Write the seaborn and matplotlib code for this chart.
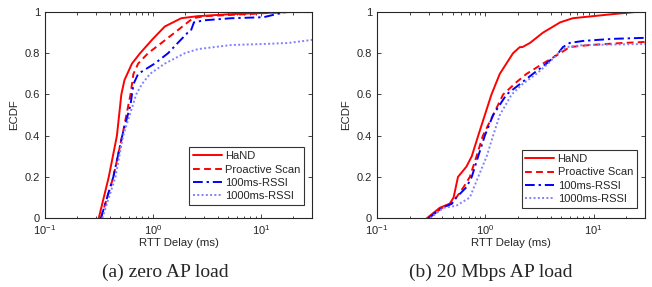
import numpy as np
import pandas as pd
import matplotlib
matplotlib.use("Agg")
import matplotlib.pyplot as plt
import seaborn as sns

# (a) zero AP load -- RTT delay (ms) vs ECDF
a_hand_x = [0.315, 0.39, 0.464, 0.51, 0.545, 0.64, 0.76, 1.0, 1.29, 1.83, 2.6, 5.3, 18, 30]
a_hand_y = [0.0, 0.2, 0.4, 0.6, 0.67, 0.75, 0.8, 0.87, 0.93, 0.97, 0.98, 0.99, 1.0, 1.0]
a_pro_x = [0.33, 0.43, 0.52, 0.62, 0.66, 0.73, 0.9, 1.2, 1.59, 2.1, 2.35, 3.0, 7.5, 16, 30]
a_pro_y = [0.0, 0.2, 0.4, 0.6, 0.7, 0.75, 0.8, 0.85, 0.9, 0.95, 0.97, 0.98, 0.99, 1.0, 1.0]
a_r100_x = [0.33, 0.43, 0.52, 0.62, 0.66, 0.73, 0.84, 1.04, 1.38, 1.7, 2.1, 2.25, 2.4, 3.0, 5.3, 10.6, 14, 17, 30]
a_r100_y = [0.0, 0.2, 0.4, 0.55, 0.65, 0.7, 0.72, 0.75, 0.8, 0.85, 0.9, 0.91, 0.95, 0.96, 0.97, 0.975, 0.99, 1.0, 1.0]
a_r1000_x = [0.34, 0.45, 0.53, 0.7, 0.79, 0.94, 1.29, 1.97, 2.6, 3.7, 5.3, 10.6, 18, 30]
a_r1000_y = [0.0, 0.2, 0.4, 0.6, 0.65, 0.7, 0.75, 0.8, 0.82, 0.83, 0.84, 0.845, 0.85, 0.865]

# (b) 20 Mbps AP load
b_hand_x = [0.29, 0.38, 0.47, 0.51, 0.56, 0.67, 0.75, 0.86, 0.99, 1.14, 1.36, 1.8, 2.08, 2.2, 2.58, 3.4, 4.9, 6.4, 9.8, 15, 24, 30]
b_hand_y = [0.0, 0.05, 0.07, 0.1, 0.2, 0.25, 0.3, 0.4, 0.5, 0.6, 0.7, 0.8, 0.83, 0.83, 0.85, 0.9, 0.95, 0.97, 0.98, 0.99, 1.0, 1.0]
b_pro_x = [0.3, 0.4, 0.49, 0.54, 0.63, 0.72, 0.83, 0.95, 1.18, 1.46, 1.94, 2.4, 3.4, 4.9, 6.0, 9.2, 18.6, 30]
b_pro_y = [0.0, 0.05, 0.07, 0.1, 0.15, 0.2, 0.3, 0.4, 0.5, 0.6, 0.66, 0.7, 0.75, 0.8, 0.83, 0.84, 0.85, 0.855]
b_r100_x = [0.3, 0.4, 0.49, 0.54, 0.67, 0.75, 0.86, 0.99, 1.18, 1.57, 2.08, 2.75, 3.66, 4.7, 5.2, 6.0, 8.0, 15, 30]
b_r100_y = [0.0, 0.05, 0.07, 0.1, 0.15, 0.2, 0.3, 0.4, 0.5, 0.6, 0.65, 0.7, 0.75, 0.8, 0.83, 0.85, 0.86, 0.87, 0.875]
b_r1000_x = [0.31, 0.41, 0.54, 0.72, 0.86, 1.03, 1.18, 1.36, 1.75, 2.2, 2.96, 3.8, 4.7, 5.6, 8.0, 30]
b_r1000_y = [0.0, 0.05, 0.06, 0.1, 0.2, 0.3, 0.4, 0.5, 0.6, 0.65, 0.7, 0.75, 0.8, 0.83, 0.84, 0.845]

series_names = ["HaND", "Proactive Scan", "100ms-RSSI", "1000ms-RSSI"]
panel_a = [(a_hand_x, a_hand_y), (a_pro_x, a_pro_y), (a_r100_x, a_r100_y), (a_r1000_x, a_r1000_y)]
panel_b = [(b_hand_x, b_hand_y), (b_pro_x, b_pro_y), (b_r100_x, b_r100_y), (b_r1000_x, b_r1000_y)]
captions = ["(a) zero AP load", "(b) 20 Mbps AP load"]

colors = ["#ff0000", "#ff0000", "#0000ff", "#8080ff"]
dashes = [(None, None), (3.5, 2.2), (5, 2, 1.2, 2), (1, 1.2)]

sns.set_style("ticks")
plt.rcParams["font.family"] = ["Liberation Sans", "DejaVu Sans"]
plt.rcParams["xtick.direction"] = "in"
plt.rcParams["ytick.direction"] = "in"
plt.rcParams["mathtext.fontset"] = "custom"
plt.rcParams["mathtext.rm"] = "Liberation Sans"

fig = plt.figure(figsize=(6.52, 2.87), dpi=100)
positions = [[0.069, 0.240, 0.410, 0.718], [0.578, 0.240, 0.412, 0.718]]
legend_anchor = [(0.970, 0.063), (0.968, 0.049)]
caption_x = [0.253, 0.753]

for pos, panel, cap, anc, cx in zip(positions, [panel_a, panel_b], captions, legend_anchor, caption_x):
    ax = fig.add_axes(pos)
    for (xs, ys), name, c, d in zip(panel, series_names, colors, dashes):
        df = pd.DataFrame({"x": xs, "y": ys})
        sns.lineplot(data=df, x="x", y="y", ax=ax, color=c, sort=False,
                     estimator=None, label=name, linewidth=1.4)
        l = ax.get_lines()[-1]
        if d[0] is not None:
            l.set_dashes(d)
    ax.set_xscale("log")
    ax.set_xlim(0.1, 30)
    ax.set_ylim(0, 1)
    ax.set_yticks([0, 0.2, 0.4, 0.6, 0.8, 1.0])
    ax.set_yticklabels(["0", "0.2", "0.4", "0.6", "0.8", "1"])
    ax.tick_params(which="both", top=True, right=True, labelsize=8, length=3, width=0.6)
    ax.tick_params(which="minor", length=1.8)
    for s in ax.spines.values():
        s.set_linewidth(0.8)
    ax.set_xlabel("RTT Delay (ms)", fontsize=8.2, labelpad=1)
    ax.set_ylabel("ECDF", fontsize=8.2, labelpad=4)
    leg = ax.legend(loc="lower right", bbox_to_anchor=anc, fontsize=8, frameon=True,
                    fancybox=False, borderpad=0.35, labelspacing=0.3, handlelength=2.6,
                    handletextpad=0.3, borderaxespad=0)
    leg.get_frame().set_edgecolor("black")
    leg.get_frame().set_linewidth(0.8)
    fig.text(cx, 0.05, cap, ha="center", va="center", fontsize=14,
             family=["Liberation Serif", "DejaVu Serif"])

fig.savefig("out.png", dpi=100)
